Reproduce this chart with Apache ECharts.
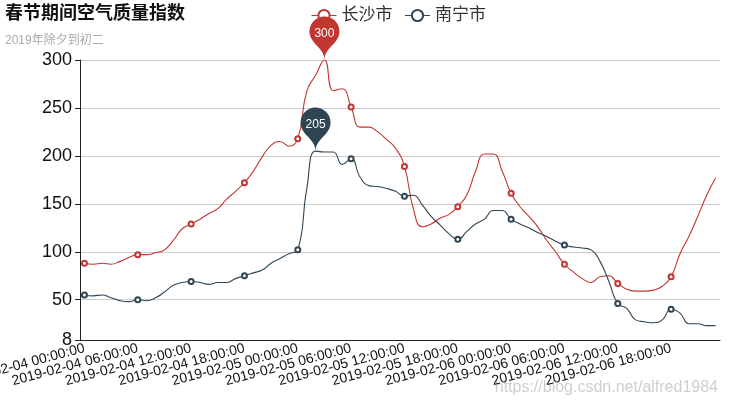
<!DOCTYPE html>
<html>
<head>
<meta charset="utf-8">
<script src="https://cdn.jsdelivr.net/npm/echarts@6/dist/echarts.min.js"></script>
<style>
html,body{margin:0;padding:0;background:#fff;}
#main{width:730px;height:400px;}
</style>
</head>
<body>
<div id="main"></div>
<script>
var categories = [
'2019-02-04 00:00:00','2019-02-04 01:00:00','2019-02-04 02:00:00','2019-02-04 03:00:00','2019-02-04 04:00:00','2019-02-04 05:00:00',
'2019-02-04 06:00:00','2019-02-04 07:00:00','2019-02-04 08:00:00','2019-02-04 09:00:00','2019-02-04 10:00:00','2019-02-04 11:00:00',
'2019-02-04 12:00:00','2019-02-04 13:00:00','2019-02-04 14:00:00','2019-02-04 15:00:00','2019-02-04 16:00:00','2019-02-04 17:00:00',
'2019-02-04 18:00:00','2019-02-04 19:00:00','2019-02-04 20:00:00','2019-02-04 21:00:00','2019-02-04 22:00:00','2019-02-04 23:00:00',
'2019-02-05 00:00:00','2019-02-05 01:00:00','2019-02-05 02:00:00','2019-02-05 03:00:00','2019-02-05 04:00:00','2019-02-05 05:00:00',
'2019-02-05 06:00:00','2019-02-05 07:00:00','2019-02-05 08:00:00','2019-02-05 09:00:00','2019-02-05 10:00:00','2019-02-05 11:00:00',
'2019-02-05 12:00:00','2019-02-05 13:00:00','2019-02-05 14:00:00','2019-02-05 15:00:00','2019-02-05 16:00:00','2019-02-05 17:00:00',
'2019-02-05 18:00:00','2019-02-05 19:00:00','2019-02-05 20:00:00','2019-02-05 21:00:00','2019-02-05 22:00:00','2019-02-05 23:00:00',
'2019-02-06 00:00:00','2019-02-06 01:00:00','2019-02-06 02:00:00','2019-02-06 03:00:00','2019-02-06 04:00:00','2019-02-06 05:00:00',
'2019-02-06 06:00:00','2019-02-06 07:00:00','2019-02-06 08:00:00','2019-02-06 09:00:00','2019-02-06 10:00:00','2019-02-06 11:00:00',
'2019-02-06 12:00:00','2019-02-06 13:00:00','2019-02-06 14:00:00','2019-02-06 15:00:00','2019-02-06 16:00:00','2019-02-06 17:00:00',
'2019-02-06 18:00:00','2019-02-06 19:00:00','2019-02-06 20:00:00','2019-02-06 21:00:00','2019-02-06 22:00:00','2019-02-06 23:00:00'
];
var changsha = [
88, 87, 88, 87, 90, 94, 97, 97, 99, 102, 112, 124, 129, 134, 140, 145, 155, 163,
172, 184, 199, 211, 215, 210, 218, 267, 284, 300, 268, 270, 251, 230, 230, 225, 217, 208,
189, 145, 126, 129, 135, 139, 147, 159, 184, 202, 202, 184, 161, 147, 137, 126, 112, 100,
87, 79, 72, 68, 74, 75, 67, 61, 59, 59, 60, 64, 74, 98, 116, 137, 159, 177
];
var nanning = [
55, 54, 55, 52, 49, 48, 50, 49, 52, 58, 65, 68, 69, 68, 66, 68, 68, 72,
75, 78, 81, 88, 93, 98, 102, 165, 205, 204, 204, 191, 197, 178, 169, 168, 166, 163,
158, 159, 149, 137, 128, 119, 113, 121, 129, 134, 143, 143, 134, 129, 125, 120, 116, 111,
107, 105, 104, 102, 90, 69, 46, 41, 29, 27, 26, 29, 40, 36, 25, 25, 23, 23
];
var seriesNames = ['长沙市', '南宁市'];
var yMin = 8, yMax = 300;

var FONT = '"Liberation Sans", Arial, "Noto Sans CJK SC", sans-serif';
var chart = echarts.init(document.getElementById('main'), null, {renderer: 'canvas'});
chart.setOption({
  animation: false,
  color: ['#c23531', '#2f4554'],
  textStyle: {fontFamily: FONT},
  title: {
    text: '春节期间空气质量指数',
    subtext: '2019年除夕到初二',
    left: 0, top: 0,
    itemGap: 12,
    textStyle: {fontSize: 18, fontWeight: 'bold', color: '#111', fontFamily: FONT},
    subtextStyle: {fontSize: 12, color: '#aaa', fontFamily: FONT}
  },
  legend: {
    data: seriesNames,
    left: 306, top: 2,
    itemWidth: 25, itemHeight: 14, itemGap: 12,
    itemStyle: {borderWidth: 1},
    lineStyle: {width: 1},
    textStyle: {fontSize: 17, color: '#333', fontFamily: FONT}
  },
  grid: {left: 80, right: 10, top: 60, bottom: 60, containLabel: false, outerBoundsMode: 'none'},
  xAxis: {
    type: 'category',
    data: categories,
    boundaryGap: true,
    axisLine: {lineStyle: {color: '#222'}},
    axisTick: {interval: 5, lineStyle: {color: '#222'}},
    axisLabel: {interval: 5, rotate: 15, fontSize: 14, color: '#111', margin: 8, fontFamily: FONT,
      showMinLabel: true, hideOverlap: false},
    splitLine: {show: false}
  },
  yAxis: {
    type: 'value',
    min: yMin, max: yMax,
    axisLine: {show: true, lineStyle: {color: '#222'}},
    axisTick: {show: true, lineStyle: {color: '#222'}},
    axisLabel: {fontSize: 18, color: '#111', fontFamily: FONT, showMinLabel: true, hideOverlap: false},
    splitLine: {lineStyle: {color: '#ccc'}}
  },
  graphic: [{
    type: 'text', right: 12, bottom: 4,
    style: {text: 'https://blog.csdn.net/alfred1984', fill: 'rgba(190,190,190,0.75)', font: '16px "Liberation Sans", Arial, sans-serif'}
  }],
  series: [
    {
      name: seriesNames[0], type: 'line', data: changsha, smooth: true,
      symbol: 'emptyCircle', symbolSize: 5, showAllSymbol: false,
      itemStyle: {borderWidth: 1},
      lineStyle: {width: 1.1},
      markPoint: {data: [{type: 'max', name: '最大值'}], itemStyle: {borderWidth: 0}, label: {color: '#fff', fontSize: 12}}
    },
    {
      name: seriesNames[1], type: 'line', data: nanning, smooth: true,
      symbol: 'emptyCircle', symbolSize: 5, showAllSymbol: false,
      itemStyle: {borderWidth: 1},
      lineStyle: {width: 1.1},
      markPoint: {data: [{type: 'max', name: '最大值'}], itemStyle: {borderWidth: 0}, label: {color: '#fff', fontSize: 12}}
    }
  ]
});
</script>
</body>
</html>
